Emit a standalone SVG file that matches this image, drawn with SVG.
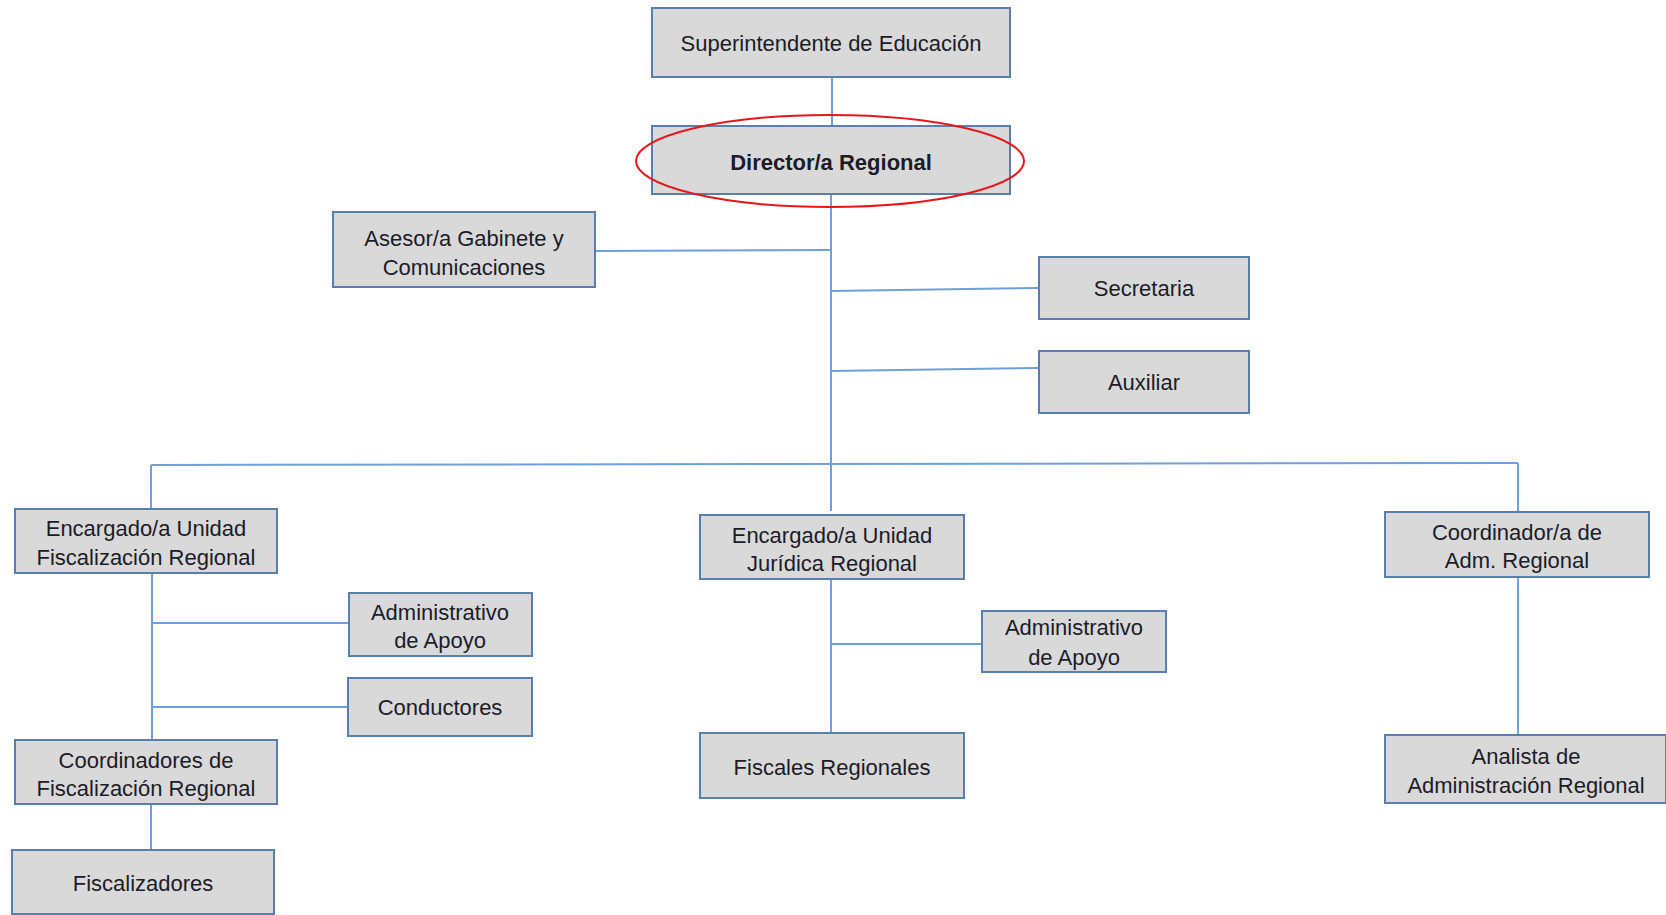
<svg xmlns="http://www.w3.org/2000/svg" width="1666" height="915" viewBox="0 0 1666 915">
<style>
.box{fill:#d9d9d9;stroke:#5b7fad;stroke-width:2}
.t{font-family:"Liberation Sans",Arial,sans-serif;font-size:22px;fill:#1c1c28;text-anchor:middle}
.b{font-weight:bold}
.ln{stroke:#6fa0d8;stroke-width:2;fill:none}
</style>
<rect width="1666" height="915" fill="#ffffff"/>
<g id="connectors">
<line class="ln" x1="832" y1="77" x2="832" y2="126"/>
<line class="ln" x1="831" y1="194" x2="831" y2="511"/>
<line class="ln" x1="595" y1="251" x2="831" y2="250"/>
<line class="ln" x1="831" y1="291" x2="1039" y2="288"/>
<line class="ln" x1="831" y1="371" x2="1039" y2="368"/>
<line class="ln" x1="151" y1="465" x2="1518" y2="463"/>
<line class="ln" x1="151" y1="465" x2="151" y2="509"/>
<line class="ln" x1="1518" y1="463" x2="1518" y2="512"/>
<line class="ln" x1="152" y1="573" x2="152" y2="740"/>
<line class="ln" x1="152" y1="623" x2="349" y2="623"/>
<line class="ln" x1="152" y1="707" x2="348" y2="707"/>
<line class="ln" x1="151" y1="804" x2="151" y2="850"/>
<line class="ln" x1="831" y1="579" x2="831" y2="733"/>
<line class="ln" x1="831" y1="644" x2="982" y2="644"/>
<line class="ln" x1="1518" y1="577" x2="1518" y2="735"/>
</g>
<g id="superintendente"><rect class="box" x="652" y="8" width="358" height="69"/><text class="t" x="831" y="51">Superintendente de Educación</text></g>
<g id="director"><rect class="box" x="652" y="126" width="358" height="68"/><text class="t b" x="831" y="170">Director/a Regional</text></g>
<g id="highlight"><ellipse cx="830" cy="161" rx="194" ry="46" fill="none" stroke="#e8161b" stroke-width="2"/></g>
<g id="asesor"><rect class="box" x="333" y="212" width="262" height="75"/><text class="t" x="464" y="246">Asesor/a Gabinete y</text><text class="t" x="464" y="275">Comunicaciones</text></g>
<g id="secretaria"><rect class="box" x="1039" y="257" width="210" height="62"/><text class="t" x="1144" y="296">Secretaria</text></g>
<g id="auxiliar"><rect class="box" x="1039" y="351" width="210" height="62"/><text class="t" x="1144" y="390">Auxiliar</text></g>
<g id="enc-fiscalizacion"><rect class="box" x="15" y="509" width="262" height="64"/><text class="t" x="146" y="536">Encargado/a Unidad</text><text class="t" x="146" y="565">Fiscalización Regional</text></g>
<g id="admin-apoyo-1"><rect class="box" x="349" y="593" width="183" height="63"/><text class="t" x="440" y="620">Administrativo</text><text class="t" x="440" y="648">de Apoyo</text></g>
<g id="conductores"><rect class="box" x="348" y="678" width="184" height="58"/><text class="t" x="440" y="715">Conductores</text></g>
<g id="coord-fiscalizacion"><rect class="box" x="15" y="740" width="262" height="64"/><text class="t" x="146" y="768">Coordinadores de</text><text class="t" x="146" y="796">Fiscalización Regional</text></g>
<g id="fiscalizadores"><rect class="box" x="12" y="850" width="262" height="64"/><text class="t" x="143" y="891">Fiscalizadores</text></g>
<g id="enc-juridica"><rect class="box" x="700" y="515" width="264" height="64"/><text class="t" x="832" y="543">Encargado/a Unidad</text><text class="t" x="832" y="571">Jurídica Regional</text></g>
<g id="admin-apoyo-2"><rect class="box" x="982" y="611" width="184" height="61"/><text class="t" x="1074" y="635">Administrativo</text><text class="t" x="1074" y="665">de Apoyo</text></g>
<g id="fiscales"><rect class="box" x="700" y="733" width="264" height="65"/><text class="t" x="832" y="775">Fiscales Regionales</text></g>
<g id="coord-adm"><rect class="box" x="1385" y="512" width="264" height="65"/><text class="t" x="1517" y="540">Coordinador/a de</text><text class="t" x="1517" y="568">Adm. Regional</text></g>
<g id="analista"><rect class="box" x="1385" y="735" width="281" height="68"/><text class="t" x="1526" y="764">Analista de</text><text class="t" x="1526" y="793">Administración Regional</text></g>
</svg>
